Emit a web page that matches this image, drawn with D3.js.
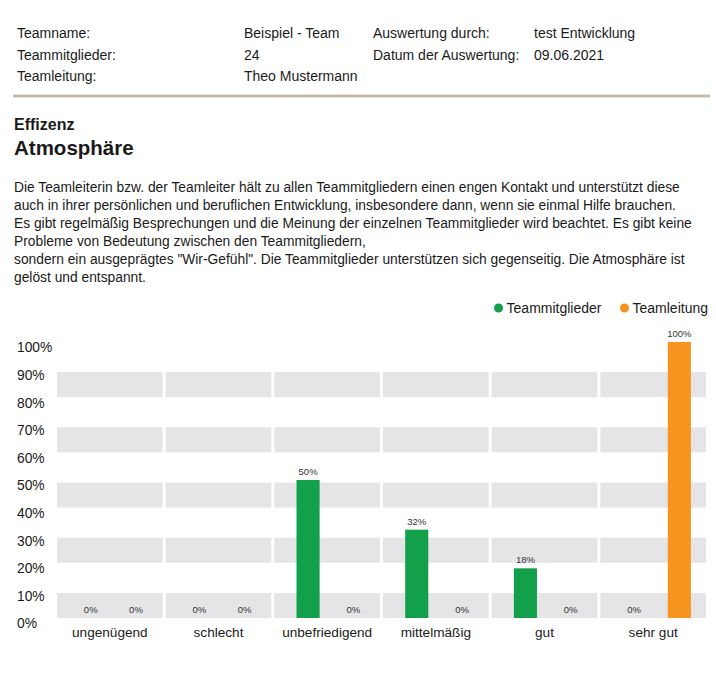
<!DOCTYPE html>
<html>
<head>
<meta charset="utf-8">
<script src="https://cdn.jsdelivr.net/npm/d3@7"></script>
<style>
  body { margin: 0; background: #fff; }
  svg text { font-family: "Liberation Sans", Arial, sans-serif; fill: #1a1a1a; }
</style>
</head>
<body>
<svg id="page"></svg>
<script>
// header info
let headerLeft = [["Teamname:", "Beispiel - Team"], ["Teammitglieder:", "24"], ["Teamleitung:", "Theo Mustermann"]];
let headerRight = [["Auswertung durch:", "test Entwicklung"], ["Datum der Auswertung:", "09.06.2021"]];

let section = "Effizenz";
let title = "Atmosphäre";
let paragraph = [
  "Die Teamleiterin bzw. der Teamleiter hält zu allen Teammitgliedern einen engen Kontakt und unterstützt diese",
  "auch in ihrer persönlichen und beruflichen Entwicklung, insbesondere dann, wenn sie einmal Hilfe brauchen.",
  "Es gibt regelmäßig Besprechungen und die Meinung der einzelnen Teammitglieder wird beachtet. Es gibt keine",
  "Probleme von Bedeutung zwischen den Teammitgliedern,",
  "sondern ein ausgeprägtes \"Wir-Gefühl\". Die Teammitglieder unterstützen sich gegenseitig. Die Atmosphäre ist",
  "gelöst und entspannt."
];

// chart data
let categories = ["ungenügend", "schlecht", "unbefriedigend", "mittelmäßig", "gut", "sehr gut"];
let series = ["Teammitglieder", "Teamleitung"];
let members = [0, 0, 50, 32, 18, 0];
let leaders = [0, 0, 0, 0, 0, 100];
let yTicks = [0, 10, 20, 30, 40, 50, 60, 70, 80, 90, 100];
let colors = ["#12a04a", "#f7941e"];

const width = 716;
const height = 673;

let svg = d3.select("svg#page")
  .attr("width", width)
  .attr("height", height);

// header table
let cols = [17, 244, 373, 534];
let rowY = [33, 55, 76];
headerLeft.forEach(function(r, i) {
  svg.append("text").attr("x", cols[0]).attr("y", rowY[i]).attr("dy", "0.35em")
    .style("font-size", "14px").text(r[0]);
  svg.append("text").attr("x", cols[1]).attr("y", rowY[i]).attr("dy", "0.35em")
    .style("font-size", "14px").text(r[1]);
});
headerRight.forEach(function(r, i) {
  svg.append("text").attr("x", cols[2]).attr("y", rowY[i]).attr("dy", "0.35em")
    .style("font-size", "14px").text(r[0]);
  svg.append("text").attr("x", cols[3]).attr("y", rowY[i]).attr("dy", "0.35em")
    .style("font-size", "14px").text(r[1]);
});

svg.append("line")
  .attr("x1", 13).attr("x2", 710)
  .attr("y1", 96).attr("y2", 96)
  .attr("stroke", "#c9b9ab")
  .attr("stroke-width", 3);

svg.append("text").attr("x", 14).attr("y", 124).attr("dy", "0.35em")
  .style("font-size", "16px").style("font-weight", "bold").text(section);
svg.append("text").attr("x", 14).attr("y", 148).attr("dy", "0.35em")
  .style("font-size", "20.5px").style("font-weight", "bold").text(title);

svg.selectAll("text.para")
  .data(paragraph)
  .enter().append("text")
  .attr("class", "para")
  .attr("x", 14)
  .attr("y", (d, i) => 187 + i * 18)
  .attr("dy", "0.35em")
  .style("font-size", "13.8px")
  .text(d => d);

// chart
let plotLeft = 57, plotRight = 706;

let yScale = d3.scaleLinear()
  .domain([0, 100])
  .range([618, 342]);

let xScale = d3.scaleBand()
  .domain(categories)
  .range([plotLeft, plotRight])
  .paddingInner(0.028);

let bw = xScale.bandwidth();
let subScale = d3.scalePoint()
  .domain(series)
  .range([bw * 0.105, bw * 0.962])
  .padding(0.5);
let barWidth = subScale.step() * 0.51;

let plot = svg.append("g").attr("id", "plot");

// alternating stripes per category column
let stripeStarts = yTicks.filter((v, i) => i % 2 === 0 && v < 100);
categories.forEach(function(c) {
  plot.selectAll(null)
    .data(stripeStarts)
    .enter().append("rect")
    .attr("x", xScale(c))
    .attr("width", bw)
    .attr("y", d => yScale(d + 10) + 2.5)
    .attr("height", d => yScale(d) - yScale(d + 10) - 2.5)
    .attr("fill", "#e5e5e7");
});

// y axis labels
let yAxis = d3.axisLeft(yScale).tickValues(yTicks).tickFormat(d => d + "%").tickSize(0);
let yGroup = plot.append("g").attr("id", "y-axis").call(yAxis);
yGroup.select(".domain").remove();
yGroup.selectAll("text")
  .attr("x", 17)
  .attr("dy", "0.35em")
  .attr("transform", "translate(0,5)")
  .attr("text-anchor", "start")
  .style("font-size", "13.8px")
  .style("font-family", "Liberation Sans, Arial, sans-serif")
  .attr("fill", "#1a1a1a");

// x axis labels
let xAxis = d3.axisBottom(xScale).tickSize(0);
let xGroup = plot.append("g").attr("id", "x-axis")
  .attr("transform", "translate(0,618)")
  .call(xAxis);
xGroup.select(".domain").remove();
xGroup.selectAll("text")
  .attr("y", 14)
  .attr("dy", "0.35em")
  .style("font-size", "13.6px")
  .style("font-family", "Liberation Sans, Arial, sans-serif")
  .attr("fill", "#1a1a1a");

// bars
let values = [members, leaders];
let pairs = [];
categories.forEach(function(c, ci) {
  series.forEach(function(s, si) {
    pairs.push({ cat: c, ser: s, si: si, value: values[si][ci] });
  });
});

plot.selectAll("rect.bar")
  .data(pairs)
  .enter().append("rect")
  .attr("class", "bar")
  .attr("x", d => xScale(d.cat) + subScale(d.ser) - barWidth / 2)
  .attr("width", barWidth)
  .attr("y", d => yScale(d.value))
  .attr("height", d => yScale(0) - yScale(d.value))
  .attr("fill", d => colors[d.si]);

plot.selectAll("text.value")
  .data(pairs)
  .enter().append("text")
  .attr("class", "value")
  .attr("x", d => xScale(d.cat) + subScale(d.ser))
  .attr("y", d => yScale(d.value) - 5)
  .attr("text-anchor", "middle")
  .style("font-size", "9.5px")
  .style("fill", "#333")
  .text(d => d.value + "%");

// legend, right aligned
let legend = svg.append("g").attr("id", "legend");
let lx = 708;
let legendY = 308;
for (let i = series.length - 1; i >= 0; i--) {
  let t = legend.append("text")
    .attr("y", legendY)
    .attr("dy", "0.35em")
    .style("font-size", "14px")
    .text(series[i]);
  let w = t.node().getComputedTextLength();
  t.attr("x", lx - w);
  legend.append("circle")
    .attr("cx", lx - w - 8)
    .attr("cy", legendY)
    .attr("r", 4.5)
    .attr("fill", colors[i]);
  lx = lx - w - 31;
}
</script>
</body>
</html>
